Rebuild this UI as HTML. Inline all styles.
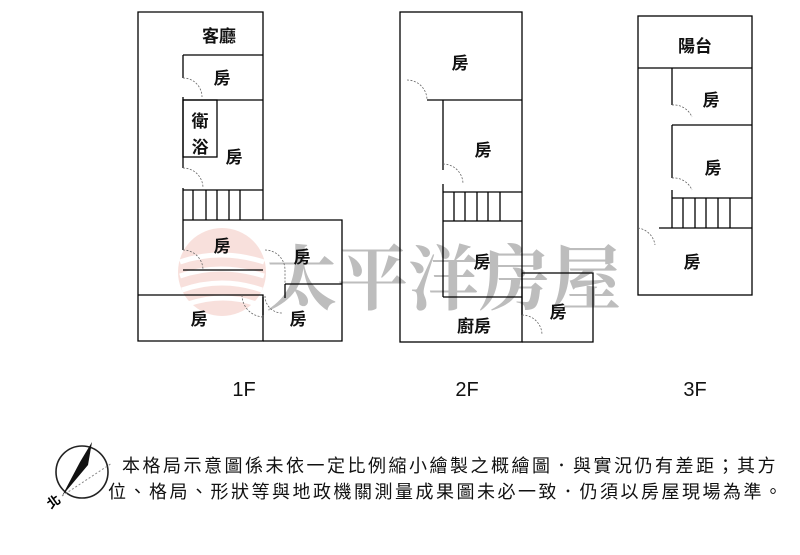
<!DOCTYPE html>
<html><head><meta charset="utf-8"><style>
body{margin:0;background:#fff;width:800px;height:555px;overflow:hidden;font-family:"Liberation Sans","Noto Sans CJK TC",sans-serif}
svg{position:absolute;left:0;top:0}
</style></head><body>
<svg width="800" height="555" viewBox="0 0 800 555" font-family="Liberation Sans, Noto Sans CJK TC, sans-serif">
<!-- watermark -->
<g opacity="0.55">
<circle cx="222" cy="272" r="44" fill="#f3c8c0"/>
<path d="M180 262 q40 -14 84 0 M180 276 q40 -14 84 0 M182 290 q40 -14 80 0 M188 304 q36 -12 68 0" stroke="#fff" stroke-width="5" fill="none"/>
</g>
<text x="266" y="304" font-size="71" fill="#bdbdbd" font-family="Noto Serif CJK SC, serif" font-weight="bold">太平洋房屋</text>
<g stroke="#000" stroke-width="1.3" fill="none">
<!-- 1F -->
<polyline points="263,220 263,12 138,12 138,295 263,295 263,341 138,341 138,295"/>
<line x1="183" y1="55" x2="263" y2="55"/>
<line x1="183" y1="55" x2="183" y2="78"/><line x1="183" y1="97" x2="183" y2="168"/><line x1="183" y1="188" x2="183" y2="250"/>
<line x1="183" y1="100" x2="263" y2="100"/>
<rect x="183" y="100" width="34" height="57"/>
<line x1="183" y1="190" x2="263" y2="190"/><line x1="183" y1="220" x2="263" y2="220"/>
<line x1="193" y1="190" x2="193" y2="220"/><line x1="206" y1="190" x2="206" y2="220"/><line x1="217" y1="190" x2="217" y2="220"/><line x1="229" y1="190" x2="229" y2="220"/><line x1="240" y1="190" x2="240" y2="220"/>
<line x1="183" y1="270" x2="263" y2="270"/>
<polyline points="263,220 342,220 342,341 263,341"/>
<line x1="285" y1="284" x2="342" y2="284"/><line x1="285" y1="284" x2="285" y2="298"/>
<line x1="263" y1="297" x2="263" y2="315"/>
<!-- 2F -->
<rect x="400" y="12" width="122" height="330"/>
<line x1="427" y1="100" x2="522" y2="100"/>
<line x1="443" y1="100" x2="443" y2="170"/><line x1="443" y1="184" x2="443" y2="297"/>
<line x1="443" y1="192" x2="522" y2="192"/><line x1="443" y1="221" x2="522" y2="221"/>
<line x1="454" y1="192" x2="454" y2="221"/><line x1="465" y1="192" x2="465" y2="221"/><line x1="477" y1="192" x2="477" y2="221"/><line x1="488" y1="192" x2="488" y2="221"/><line x1="500" y1="192" x2="500" y2="221"/>
<line x1="443" y1="297" x2="522" y2="297"/>
<polyline points="522,273 593,273 593,342 522,342"/>
<line x1="522" y1="273" x2="522" y2="315"/>
<!-- 3F -->
<rect x="638" y="16" width="114" height="279"/>
<line x1="638" y1="68" x2="752" y2="68"/>
<line x1="672" y1="68" x2="672" y2="105"/><line x1="672" y1="125" x2="672" y2="178"/><line x1="672" y1="190" x2="672" y2="228"/>
<line x1="672" y1="125" x2="752" y2="125"/>
<line x1="672" y1="198" x2="752" y2="198"/><line x1="659" y1="228" x2="752" y2="228"/>
<line x1="683" y1="198" x2="683" y2="228"/><line x1="695" y1="198" x2="695" y2="228"/><line x1="706" y1="198" x2="706" y2="228"/><line x1="718" y1="198" x2="718" y2="228"/><line x1="730" y1="198" x2="730" y2="228"/>
</g>
<g stroke="#666" stroke-width="0.8" fill="none" stroke-dasharray="2,1.5">
<path d="M183 78 a19 19 0 0 1 19 19"/><path d="M183 168 a20 20 0 0 1 20 20"/><path d="M183 250 a20 20 0 0 1 20 20"/>
<path d="M242 295 a22 22 0 0 0 22 22"/><path d="M265 250 a20 20 0 0 1 20 20 l0 14"/><path d="M265 296 a17 17 0 0 0 17 17"/>
<path d="M407 80 a20 20 0 0 1 20 20"/><path d="M443 164 a20 20 0 0 1 20 20"/><path d="M522 315 a20 20 0 0 1 20 20"/>
<path d="M672 105 a20 20 0 0 1 20 12"/><path d="M672 178 a20 20 0 0 1 20 12"/><path d="M638 228 a20 20 0 0 1 17 17"/>
</g>
<g font-size="17" fill="#111" text-anchor="middle" font-weight="bold">
<text x="219" y="42">客廳</text><text x="222" y="84">房</text>
<text x="200" y="127">衛</text><text x="200" y="153">浴</text><text x="234" y="163">房</text>
<text x="222" y="252">房</text><text x="302" y="263">房</text><text x="199" y="325">房</text><text x="298" y="325">房</text>
<text x="460" y="69">房</text><text x="483" y="156">房</text><text x="482" y="268">房</text><text x="558" y="318">房</text><text x="474" y="332">廚房</text>
<text x="695" y="52">陽台</text><text x="711" y="106">房</text><text x="713" y="174">房</text><text x="692" y="268">房</text>
<text x="244" y="396" font-size="20" font-weight="normal">1F</text><text x="467" y="396" font-size="20" font-weight="normal">2F</text><text x="695" y="396" font-size="20" font-weight="normal">3F</text>
</g>
<!-- compass -->
<circle cx="82" cy="472" r="26" fill="none" stroke="#222" stroke-width="1.6"/>
<polygon points="92,442 88,465 62,496 80,462" fill="#111"/>
<line x1="62" y1="496" x2="112" y2="463" stroke="#888" stroke-dasharray="2,2"/>
<text x="48" y="510" font-size="13" font-weight="bold" transform="rotate(-35 48 505)">北</text>
<g font-size="18" fill="#111" letter-spacing="2.5">
<text x="122" y="472">本格局示意圖係未依一定比例縮小繪製之概繪圖．與實況仍有差距；其方</text>
<text x="108" y="498">位、格局、形狀等與地政機關測量成果圖未必一致．仍須以房屋現場為準。</text>
</g>
</svg>
</body></html>
